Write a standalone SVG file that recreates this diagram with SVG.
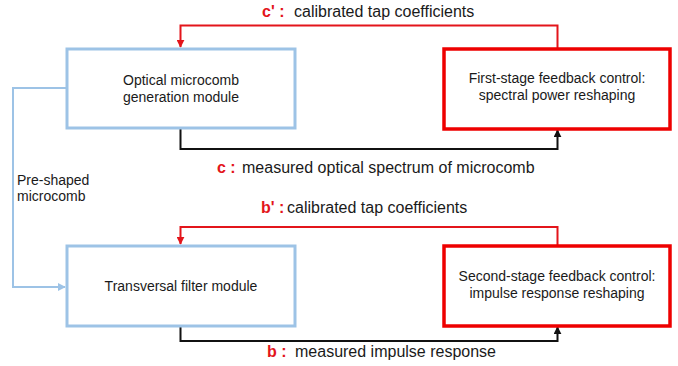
<svg xmlns="http://www.w3.org/2000/svg" width="678" height="366" viewBox="0 0 678 366">
<style>
text{font-family:"Liberation Sans",Arial,sans-serif;fill:#1a1a1a}
.bt{font-size:14px;text-anchor:middle}
.lb{font-size:16px}
.k{fill:#e3151b;font-weight:bold}
.blue{fill:#fff;stroke:#9dc3e6;stroke-width:3}
.red{fill:#fff;stroke:#ee0000;stroke-width:3.5}
.cr{fill:none;stroke:#e3151b;stroke-width:2}
.ck{fill:none;stroke:#111;stroke-width:2}
.cb{fill:none;stroke:#9dc3e6;stroke-width:2}
</style>
<defs>
<marker id="ar" viewBox="0 0 10 10" refX="9" refY="5" markerWidth="4" markerHeight="4" orient="auto" markerUnits="strokeWidth"><path d="M0,0L10,5L0,10z" fill="#e3151b"/></marker>
<marker id="ak" viewBox="0 0 10 10" refX="9" refY="5" markerWidth="4" markerHeight="4" orient="auto" markerUnits="strokeWidth"><path d="M0,0L10,5L0,10z" fill="#111"/></marker>
<marker id="ab" viewBox="0 0 10 10" refX="9" refY="5" markerWidth="4" markerHeight="4" orient="auto" markerUnits="strokeWidth"><path d="M0,0L10,5L0,10z" fill="#9dc3e6"/></marker>
</defs>
<g id="connectors">
<path class="cr" d="M557.5,49 V25.5 H180.5 V47" marker-end="url(#ar)"/>
<path class="ck" d="M180.5,128 V149 H557.5 V130" marker-end="url(#ak)"/>
<path class="cb" d="M67,88 H13 V287 H65" marker-end="url(#ab)"/>
<path class="cr" d="M557.5,246 V227 H180.5 V244" marker-end="url(#ar)"/>
<path class="ck" d="M180.5,326 V341 H557.5 V327" marker-end="url(#ak)"/>
</g>
<g id="optical-microcomb">
<rect class="blue" x="67" y="49" width="228" height="79"/>
<text class="bt" x="181" y="85">Optical microcomb</text>
<text class="bt" x="181" y="102">generation module</text>
</g>
<g id="first-stage">
<rect class="red" x="444" y="49" width="226" height="80"/>
<text class="bt" x="557" y="83">First-stage feedback control:</text>
<text class="bt" x="557" y="100">spectral power reshaping</text>
</g>
<g id="transversal-filter">
<rect class="blue" x="67" y="246" width="228" height="80"/>
<text class="bt" x="181" y="291">Transversal filter module</text>
</g>
<g id="second-stage">
<rect class="red" x="444" y="246" width="226" height="80"/>
<text class="bt" x="557" y="281">Second-stage feedback control:</text>
<text class="bt" x="557" y="298">impulse response reshaping</text>
</g>
<g id="labels">
<text class="lb" x="262" y="17"><tspan class="k">c' :</tspan><tspan x="294">calibrated tap coefficients</tspan></text>
<text class="lb" x="217" y="173"><tspan class="k">c :</tspan><tspan x="242">measured optical spectrum of microcomb</tspan></text>
<text style="font-size:14px" x="17" y="185">Pre-shaped</text>
<text style="font-size:14px" x="17" y="201">microcomb</text>
<text class="lb" x="261" y="213"><tspan class="k">b' :</tspan><tspan x="287">calibrated tap coefficients</tspan></text>
<text class="lb" x="267" y="357"><tspan class="k">b :</tspan><tspan x="295">measured impulse response</tspan></text>
</g>
</svg>
